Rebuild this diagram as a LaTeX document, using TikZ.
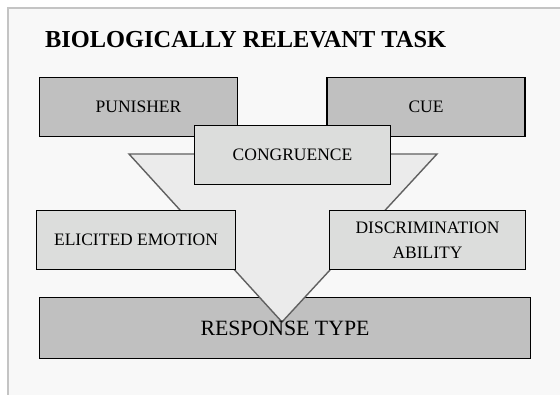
\documentclass[tikz,border=0pt]{standalone}
\usepackage{fontspec}
\setmainfont{Liberation Serif}
\definecolor{bgfill}{HTML}{F8F8F8}
\definecolor{framec}{HTML}{C4C4C4}
\definecolor{darkbox}{HTML}{C0C0C0}
\definecolor{lightbox}{HTML}{DCDDDC}
\definecolor{trifill}{HTML}{EBEBEB}
\definecolor{trilinec}{HTML}{606060}
\begin{document}
\begin{tikzpicture}[x=1pt,y=-1pt,
  boxbase/.style={rectangle, draw=black, line width=1.4pt, inner sep=2pt, align=center,
    font=\fontsize{17.5}{24.5}\selectfont},
  darkb/.style={boxbase, fill=darkbox},
  lightb/.style={boxbase, fill=lightbox}]
\useasboundingbox (0,0) rectangle (560,395);
\fill[white] (0,0) rectangle (560,395);
\fill[bgfill] (8,8) rectangle (560,395);
\draw[framec, line width=2pt] (8,395) -- (8,8) -- (560,8);

\node[anchor=base west, inner sep=0, font=\fontsize{24.4}{28}\selectfont\bfseries] (title) at (45,48) {BIOLOGICALLY RELEVANT TASK};

\node[darkb, minimum width=198pt, minimum height=59pt] (pun) at (138.5,107) {PUNISHER};
\node[darkb, minimum width=198pt, minimum height=59pt] (cue) at (426,107) {CUE};

\node[darkb, minimum width=491pt, minimum height=61pt] (resp) at (285,328) {};

\filldraw[fill=trifill, draw=trilinec, line width=1.4pt, line join=miter] (129,154) -- (437,154) -- (282,322) -- cycle;

\node[inner sep=0, font=\fontsize{21.8}{26}\selectfont] (resplabel) at (resp.center) {RESPONSE TYPE};

\node[lightb, minimum width=196pt, minimum height=59pt] (cong) at (292.5,155) {CONGRUENCE};
\node[lightb, minimum width=199pt, minimum height=59pt] (elic) at (136,240) {ELICITED EMOTION};
\node[lightb, minimum width=196pt, minimum height=59pt] (disc) at (427.5,240) {DISCRIMINATION\\ABILITY};
\end{tikzpicture}
\end{document}
